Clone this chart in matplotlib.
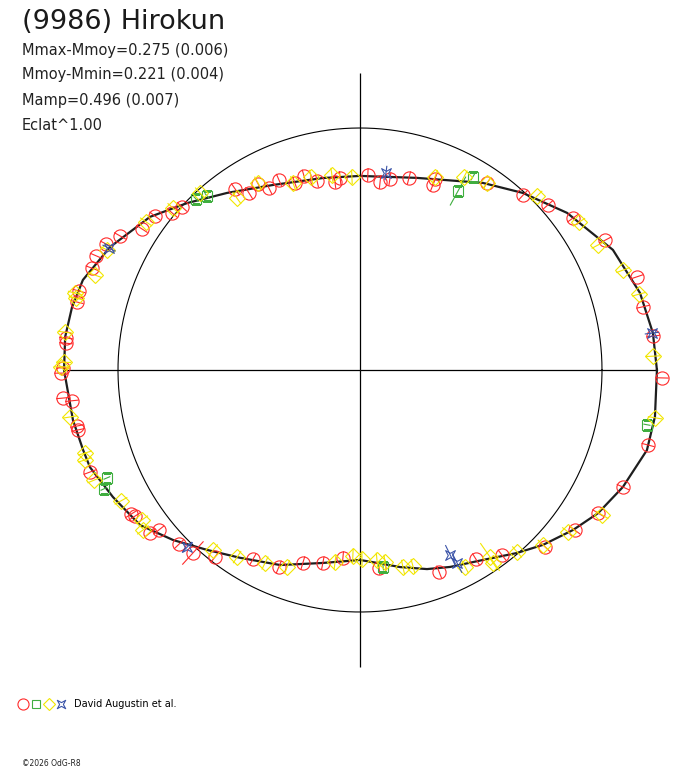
import matplotlib
matplotlib.use("Agg")
import matplotlib.pyplot as plt
import numpy as np
from matplotlib.lines import Line2D
from matplotlib.path import Path
from matplotlib.legend_handler import HandlerTuple

# rotation phase (deg) and relative flux (1 = mean magnitude)
curve_phase = [0, 7.2, 15.4, 25.4, 37.2, 47.4, 56.7, 73.5, 90, 100.9, 115.2, 126.9,
               136, 143.9, 153.8, 162, 167.7, 173.6, 180, 189.9, 196.1, 199.8, 207.2,
               215.2, 222.3, 229.6, 237.4, 247.7, 259.1, 270, 275, 281.5, 288.6, 294.6,
               302.9, 310.6, 316.3, 323.1, 329, 336, 344.4, 351]
curve_flux = [1.227, 1.220, 1.200, 1.157, 1.074, 0.994, 0.925, 0.828, 0.802, 0.808,
              0.845, 0.915, 0.993, 1.074, 1.151, 1.204, 1.218, 1.226, 1.223, 1.204,
              1.191, 1.186, 1.148, 1.112, 1.044, 0.976, 0.921, 0.871, 0.812, 0.785,
              0.800, 0.831, 0.868, 0.895, 0.935, 0.996, 1.046, 1.101, 1.148, 1.189,
              1.231, 1.234]

red_phase = [6.6, 12.6, 18.6, 27.9, 35.5, 41.3, 47.0, 55.8, 68.5, 68.6, 75.7, 81.1,
             83.9, 87.7, 95.9, 97.6, 102.8, 106.1, 109.2, 113.1, 116.6, 118.7, 122.1,
             124.6, 137.5, 140.1, 143.1, 147.1, 150.8, 153.6, 156.6, 159.2, 164.3,
             166.5, 173.8, 174.8, 179.6, 180.6, 185.4, 186.1, 191.2, 192.0, 200.7,
             212.2, 213.0, 217.8, 218.5, 223.9, 227.6, 232.2, 240.5, 247.6, 253.5,
             259.1, 264.8, 275.5, 291.4, 301.5, 307.5, 316.3, 323.3, 329.0, 336.0,
             345.4, 358.5]
red_flux = [1.219, 1.198, 1.207, 1.146, 1.081, 1.033, 0.988, 0.934, 0.822, 0.848, 0.819,
            0.799, 0.781, 0.807, 0.798, 0.784, 0.801, 0.834, 0.818, 0.853, 0.841, 0.876,
            0.863, 0.909, 0.998, 1.012, 1.060, 1.073, 1.136, 1.171, 1.188, 1.185, 1.206,
            1.203, 1.222, 1.220, 1.227, 1.236, 1.233, 1.197, 1.192, 1.191, 1.193, 1.118,
            1.108, 1.098, 1.062, 1.038, 1.024, 0.978, 0.898, 0.880, 0.831, 0.812, 0.780,
            0.822, 0.896, 0.917, 0.964, 1.058, 1.107, 1.148, 1.189, 1.230, 1.248]
red_err = [0.028] * len(red_phase)
red_err[red_phase.index(227.6)] = 0.065

yel_phase = [2.7, 15.2, 20.8, 27.7, 34.0, 44.5, 55.8, 61.7, 68.8, 92.4, 98.2, 104.2,
             109.7, 118.6, 125.6, 132.1, 139.1, 145.3, 154.6, 160.3, 164.9, 165.8,
             172.7, 178.5, 179.4, 189.2, 196.8, 198.1, 202.5, 208.7, 214.5, 216.4,
             230.8, 236.7, 243.8, 249.7, 262.6, 267.8, 270.6, 275.1, 277.4, 282.3,
             285.1, 298.1, 304.6, 304.8, 310.8, 316.3, 322.1, 329.1, 350.8]
yel_flux = [1.212, 1.195, 1.163, 1.111, 1.092, 1.026, 0.934, 0.906, 0.856, 0.798, 0.814,
            0.823, 0.821, 0.880, 0.874, 0.986, 1.022, 1.075, 1.157, 1.163, 1.220, 1.211,
            1.229, 1.224, 1.236, 1.214, 1.187, 1.196, 1.189, 1.126, 1.093, 1.114, 0.960,
            0.925, 0.889, 0.868, 0.800, 0.769, 0.781, 0.788, 0.800, 0.833, 0.839, 0.922,
            0.969, 0.941, 0.993, 1.046, 1.089, 1.166, 1.235]
yel_err = [0.03] * len(yel_phase)
yel_err[yel_phase.index(304.8)] = 0.07

grn_phase = [59.7, 61.3, 131.3, 133.8, 203.1, 204.9, 276.7, 349.2]
grn_flux = [0.924, 0.843, 0.957, 0.979, 1.137, 1.167, 0.819, 1.207]
grn_err = [0.015, 0.068, 0.015, 0.015, 0.015, 0.015, 0.015, 0.015]

blu_phase = [7.2, 82.5, 154.1, 225.7, 296.0, 296.7]
blu_flux = [1.216, 0.821, 1.153, 1.023, 0.850, 0.893]
blu_err = [0.03, 0.03, 0.03, 0.03, 0.045, 0.045]

RED = "#ff2a2a"
YEL = "#f2e600"
GRN = "#3fae3f"
BLU = "#3b54a8"

star = Path([(1, 1), (0, 0.45), (-1, 1), (-0.45, 0), (-1, -1), (0, -0.45),
             (1, -1), (0.45, 0), (1, 1)], closed=True)

fig = plt.figure(figsize=(6.88, 7.68), dpi=100)
ax = fig.add_axes([45.4 / 688, 83.4 / 768, 629.2 / 688, 629.2 / 768], projection="polar")
ax.set_ylim(0, 1.3)
ax.set_axis_off()

# reference circle and axes
t = np.linspace(0, 2 * np.pi, 400)
ax.plot(t, np.ones_like(t), color="black", lw=0.8)
ax.vlines(np.deg2rad([0, 90, 180, 270]), 0, 1.228, color="black", lw=0.9)

# fitted curve
cp = np.deg2rad(curve_phase + [curve_phase[0]])
cf = curve_flux + [curve_flux[0]]
ax.plot(cp, cf, color="#1e1e1e", lw=1.6, zorder=3)

sets = [
    (red_phase, red_flux, red_err, RED, "o", 9.5),
    (grn_phase, grn_flux, grn_err, GRN, "s", 7),
    (yel_phase, yel_flux, yel_err, YEL, "D", 8),
    (blu_phase, blu_flux, blu_err, BLU, star, 7),
]
for ph, fl, er, col, mk, ms in sets:
    th = np.deg2rad(ph)
    fl = np.array(fl)
    er = np.array(er)
    ax.vlines(th, fl - er, fl + er, color=col, lw=0.8, zorder=4)
    ax.plot(th, fl, ls="none", marker=mk, mfc="none", mec=col, ms=ms, mew=0.8, zorder=4)

# texts
fig.text(22 / 688, 1 - 22 / 768, "(9986) Hirokun", fontsize=19.5, va="center", color="#1a1a1a")
info = ["Mmax-Mmoy=0.275 (0.006)", "Mmoy-Mmin=0.221 (0.004)", "Mamp=0.496 (0.007)", "Eclat^1.00"]
for i, s in enumerate(info):
    fig.text(22 / 688, 1 - (50 + 25 * i) / 768, s, fontsize=10.5, va="center", color="#222222")

handles = [
    Line2D([], [], ls="none", marker="o", mfc="none", mec=RED, ms=8, mew=0.8),
    Line2D([], [], ls="none", marker="s", mfc="none", mec=GRN, ms=6, mew=0.8),
    Line2D([], [], ls="none", marker="D", mfc="none", mec=YEL, ms=6.5, mew=0.8),
    Line2D([], [], ls="none", marker=star, mfc="none", mec=BLU, ms=6, mew=0.8),
]
fig.legend(handles=[tuple(handles)], labels=["David Augustin et al."],
           handler_map={tuple: HandlerTuple(ndivide=None, pad=0.0)},
           loc="center left", bbox_to_anchor=(17 / 688, 1 - 704 / 768),
           frameon=False, fontsize=7, handlelength=5.2, handletextpad=0.7,
           borderpad=0, borderaxespad=0)
fig.text(22 / 688, 1 - 763 / 768, "\u00a92026 OdG-R8", fontsize=5.5, va="center", color="#222222")

fig.savefig("out.png", dpi=100)
